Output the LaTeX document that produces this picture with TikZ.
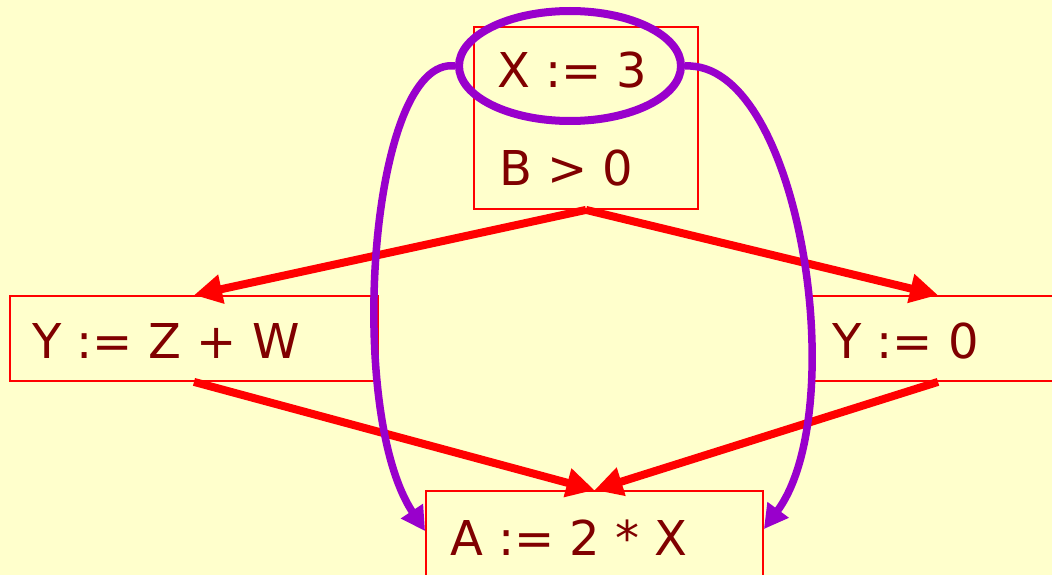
\documentclass[tikz,border=0pt]{standalone}
\usepackage{fontspec}
\setmainfont{DejaVu Sans}
\usetikzlibrary{arrows.meta,positioning,calc,shapes.geometric}
\definecolor{bg}{HTML}{FFFFCC}
\definecolor{ink}{HTML}{800000}
\definecolor{hl}{HTML}{9900CC}
\tikzset{
  blk/.style={rectangle,draw=red,line width=1.8pt,inner sep=0pt},
  stmt/.style={anchor=base west,inner sep=0pt,text=ink,font=\fontsize{48}{56}\selectfont},
  flow/.style={draw=red,line width=8pt,-{Triangle[length=28pt,width=28pt]}},
  live/.style={draw=hl,line width=7.5pt,-{Triangle[length=24pt,width=25pt]}},
}

\begin{document}
\begin{tikzpicture}[x=1pt,y=-1pt]
  \fill[bg] (0,0) rectangle (1052,575);
  \useasboundingbox (0,0) rectangle (1052,575);
  % basic blocks
  \node[blk,minimum width=224pt,minimum height=182pt] (top) at (586,118){};
  \node[blk,minimum width=368pt,minimum height=85pt] (lft) at (194,338.5){};
  \node[blk,minimum width=256pt,minimum height=85pt] (rgt) at (938,338.5){};
  \node[blk,minimum width=337pt,minimum height=110pt] (bot) at (594.5,546){};
  % statements
  \node[stmt] (sx) at (497,88){X := 3};
  \node[stmt] (sb) at (499,185){B > 0};
  \node[stmt] (sy) at (32,358){Y := Z + W};
  \node[stmt] (s0) at (832,358){Y := 0};
  \node[stmt] (sa) at (450,555){A := 2 * X};
  % the definition of X
  \node[draw=hl,line width=8pt,ellipse,minimum width=222pt,minimum height=110pt,inner sep=0pt] (ring) at (570,66){};
  % control flow
  \draw[flow] (top.south) -- (lft.north);
  \draw[flow] (top.south) -- (rgt.north);
  \draw[flow] (lft.south) -- (bot.north);
  \draw[flow] (rgt.south) -- (bot.north);
  % uses reached by X := 3
  \coordinate (inl) at ($(bot.north west)+(0,41)$);
  \coordinate (inr) at ($(bot.north east)+(0,39)$);
  \draw[live] (ring.west) .. controls (370,55) and (345,410) .. (inl);
  \draw[live] (ring.east) .. controls (800,60) and (852,410) .. (inr);
\end{tikzpicture}
\end{document}
